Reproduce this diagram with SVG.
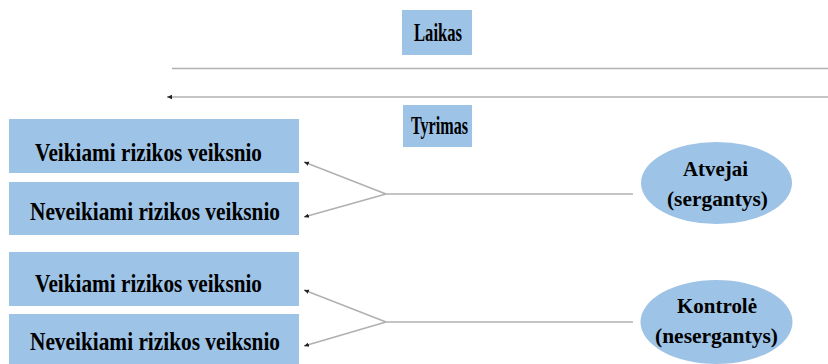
<svg xmlns="http://www.w3.org/2000/svg" width="828" height="364" viewBox="0 0 828 364">
<style>
.box{fill:#9DC3E6}
.t{font-family:"Liberation Serif","Times New Roman",serif;font-weight:bold;font-size:25px;fill:#000}
.e{font-size:22px}
.ln{stroke:#b0b0b0;stroke-width:1.6;fill:none}
</style>
<defs>
<marker id="ah" markerWidth="6" markerHeight="6" refX="5" refY="3" orient="auto" markerUnits="userSpaceOnUse">
<path d="M0,0.8 L5,3 L0,5.2 Z" fill="#222"/>
</marker>
</defs>
<g id="laikas"><rect class="box" x="402" y="10" width="70" height="45"/><text class="t" x="414" y="41" textLength="48" lengthAdjust="spacingAndGlyphs">Laikas</text></g>
<g id="tyrimas"><rect class="box" x="403" y="105" width="69" height="42"/><text class="t" x="411" y="134" textLength="57" lengthAdjust="spacingAndGlyphs">Tyrimas</text></g>
<g id="b1"><rect class="box" x="9" y="119" width="290" height="54"/><text class="t" x="35" y="161" textLength="227" lengthAdjust="spacingAndGlyphs">Veikiami rizikos veiksnio</text></g>
<g id="b2"><rect class="box" x="9" y="182" width="290" height="53"/><text class="t" x="30" y="220" textLength="250" lengthAdjust="spacingAndGlyphs">Neveikiami rizikos veiksnio</text></g>
<g id="b3"><rect class="box" x="9" y="252" width="290" height="54"/><text class="t" x="35" y="292" textLength="227" lengthAdjust="spacingAndGlyphs">Veikiami rizikos veiksnio</text></g>
<g id="b4"><rect class="box" x="9" y="314" width="290" height="52"/><text class="t" x="30" y="350" textLength="250" lengthAdjust="spacingAndGlyphs">Neveikiami rizikos veiksnio</text></g>
<g id="atvejai"><ellipse class="box" cx="716.5" cy="183" rx="75.5" ry="41"/><text class="t e" x="683" y="176" textLength="65" lengthAdjust="spacingAndGlyphs">Atvejai</text><text class="t e" x="667" y="206" textLength="101" lengthAdjust="spacingAndGlyphs">(sergantys)</text></g>
<g id="kontrole"><ellipse class="box" cx="716.5" cy="322" rx="76" ry="42"/><text class="t e" x="677" y="313" textLength="80" lengthAdjust="spacingAndGlyphs">Kontrolė</text><text class="t e" x="655" y="343" textLength="123" lengthAdjust="spacingAndGlyphs">(nesergantys)</text></g>
<g id="connectors">
<line class="ln" x1="172" y1="68.5" x2="828" y2="68.5"/>
<line class="ln" x1="828" y1="97" x2="167" y2="97" marker-end="url(#ah)"/>
<line class="ln" x1="633" y1="194" x2="386" y2="194"/>
<line class="ln" x1="386" y1="194" x2="304" y2="162" marker-end="url(#ah)"/>
<line class="ln" x1="386" y1="194" x2="304" y2="217" marker-end="url(#ah)"/>
<line class="ln" x1="633" y1="322" x2="386" y2="322"/>
<line class="ln" x1="386" y1="322" x2="304" y2="290" marker-end="url(#ah)"/>
<line class="ln" x1="386" y1="322" x2="304" y2="346" marker-end="url(#ah)"/>
</g>
</svg>
